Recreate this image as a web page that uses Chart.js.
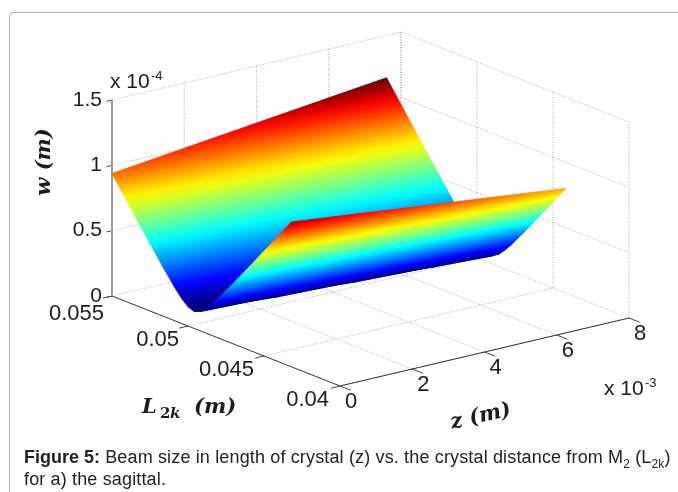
<!DOCTYPE html>
<html>
<head>
<meta charset="utf-8">
<title>Figure 5</title>
<script src="https://cdn.jsdelivr.net/npm/chart.js@4/dist/chart.umd.min.js"></script>
<style>
html, body { margin: 0; padding: 0; background: #fff; overflow: hidden; }
#wrap { position: relative; width: 678px; height: 492px; }
#frame { position: absolute; left: 9px; top: 12px; right: 0; bottom: -10px;
  border-left: 1px solid #b0b0b0; border-top: 1px solid #b0b0b0; border-top-left-radius: 5px; }
#map { position: absolute; left: 0; top: 0; }
#caption { position: absolute; left: 24px; top: 446px; width: 654px; color: #222;
  font: 18px/22px "Liberation Sans", Arial, sans-serif; letter-spacing: 0.15px; white-space: nowrap; }
#caption b { letter-spacing: 0; }
#caption sub { font-size: 12px; line-height: 0; }
</style>
</head>
<body>
<div id="wrap">
  <div id="frame"></div>
  <canvas id="map" width="678" height="492"></canvas>
  <div id="caption"><b>Figure 5:</b> Beam size in length of crystal (z) vs. the crystal distance from M<sub>2</sub> (L<sub>2k</sub>)<br>for a) the sagittal.</div>
</div>
<script>
// Axes ticks (z in 10^-3 m, w in 10^-4 m)
var zTicks = [0, 2, 4, 6, 8];
var zTickLabels = ['0', '2', '4', '6', '8'];
var lTicks = [0.055, 0.05, 0.045, 0.04];
var lTickLabels = ['0.055', '0.05', '0.045', '0.04'];
var wTicks = [0, 0.5, 1, 1.5];
var wTickLabels = ['0', '0.5', '1', '1.5'];

// Surface: one w column per z value, one entry per L row
var zValues = [0, 2, 4, 6, 7.6];
var lValues = [0.055, 0.053, 0.0515, 0.0508, 0.0504, 0.05, 0.0496, 0.0492, 0.0488, 0.0484, 0.048, 0.0476, 0.0472, 0.0468, 0.046, 0.0445, 0.0432];
var wAtZ0 = [0.938, 0.599, 0.352, 0.244, 0.189, 0.147, 0.13, 0.147, 0.189, 0.244, 0.304, 0.368, 0.433, 0.499, 0.633, 0.887, 1.108];
var wAtZ2 = [1.0, 0.661, 0.411, 0.299, 0.239, 0.185, 0.145, 0.13, 0.15, 0.193, 0.249, 0.309, 0.373, 0.438, 0.571, 0.824, 1.046];
var wAtZ4 = [1.063, 0.723, 0.472, 0.357, 0.294, 0.235, 0.181, 0.142, 0.131, 0.153, 0.198, 0.253, 0.314, 0.378, 0.51, 0.762, 0.983];
var wAtZ6 = [1.126, 0.785, 0.532, 0.417, 0.352, 0.289, 0.23, 0.177, 0.14, 0.131, 0.156, 0.202, 0.258, 0.32, 0.449, 0.7, 0.921];
var wAtZ76 = [1.176, 0.835, 0.582, 0.465, 0.399, 0.335, 0.273, 0.215, 0.166, 0.134, 0.135, 0.166, 0.216, 0.274, 0.401, 0.65, 0.871];
var wColumns = [wAtZ0, wAtZ2, wAtZ4, wAtZ6, wAtZ76];

var wMin = 0.13, wMax = 1.176;

// Oblique view of the box, in canvas units
function project(z, l, w) {
    var t = (0.055 - l) / 0.015;
    return {
        x: 112 + z / 8 * 289 + t * 228,
        y: 296 - z / 8 * 68 + t * 90 - w / 1.5 * 196
    };
}

// Jet colormap
var jetStops = [[0, [0, 0, 110]], [0.125, [0, 0, 255]], [0.375, [0, 255, 255]], [0.625, [255, 255, 0]], [0.875, [255, 0, 0]], [1, [96, 0, 0]]];
function jet(w) {
    var v = Math.min(1, Math.max(0, (w - wMin) / (wMax - wMin)));
    for (var i = 1; i < jetStops.length; i++) {
        if (v <= jetStops[i][0]) {
            var a = jetStops[i - 1], b = jetStops[i];
            var f = (v - a[0]) / (b[0] - a[0]);
            return 'rgb(' + [0, 1, 2].map(function(c) {
                return Math.round(a[1][c] + (b[1][c] - a[1][c]) * f);
            }).join(',') + ')';
        }
    }
    return 'rgb(96,0,0)';
}

// Gradient for one cell: w is taken as a plane through three of its corners
function cellGradient(chart, corners) {
    var xs = chart.scales.x, ys = chart.scales.y;
    var p = corners.map(function(c) {
        var q = project(c.z, c.l, c.w);
        return { x: xs.getPixelForValue(q.x), y: ys.getPixelForValue(q.y), w: c.w };
    });
    var ax = p[1].x - p[0].x, ay = p[1].y - p[0].y, aw = p[1].w - p[0].w;
    var bx = p[3].x - p[0].x, by = p[3].y - p[0].y, bw = p[3].w - p[0].w;
    var det = ax * by - ay * bx;
    var gx = (aw * by - ay * bw) / det, gy = (ax * bw - aw * bx) / det;
    var g2 = gx * gx + gy * gy || 1e-6;
    var lo = Math.min.apply(null, p.map(function(c) { return c.w; }));
    var hi = Math.max.apply(null, p.map(function(c) { return c.w; }));
    var x0 = p[0].x + gx * (lo - p[0].w) / g2, y0 = p[0].y + gy * (lo - p[0].w) / g2;
    var x1 = p[0].x + gx * (hi - p[0].w) / g2, y1 = p[0].y + gy * (hi - p[0].w) / g2;
    // scales have no pixel size yet on the very first pass
    if (![x0, y0, x1, y1].every(isFinite)) return jet((lo + hi) / 2);
    var grad = chart.ctx.createLinearGradient(x0, y0, x1, y1);
    for (var s = 0; s <= 8; s++) {
        grad.addColorStop(s / 8, jet(lo + (hi - lo) * s / 8));
    }
    return grad;
}

var datasets = [];

function addLine(a, b, color, width, dash, order) {
    datasets.push({
        data: [project(a[0], a[1], a[2]), project(b[0], b[1], b[2])],
        showLine: true, fill: false, pointRadius: 0,
        borderColor: color, borderWidth: width, borderDash: dash, order: order
    });
}

// Dotted grid on the floor and the two back walls
var gridColor = '#9a9a9a', gridDash = [1, 1.5];
zTicks.forEach(function(z) {
    if (z > 0) addLine([z, 0.04, 0], [z, 0.055, 0], gridColor, 0.8, gridDash, 10000);
    if (z > 0) addLine([z, 0.055, 0], [z, 0.055, 1.5], gridColor, 0.8, gridDash, 10000);
});
lTicks.forEach(function(l) {
    addLine([0, l, 0], [8, l, 0], gridColor, 0.8, gridDash, 10000);
    addLine([8, l, 0], [8, l, 1.5], gridColor, 0.8, gridDash, 10000);
});
wTicks.forEach(function(w) {
    if (w > 0) {
        addLine([0, 0.055, w], [8, 0.055, w], gridColor, 0.8, gridDash, 10000);
        addLine([8, 0.055, w], [8, 0.04, w], gridColor, 0.8, gridDash, 10000);
    }
});

// Box axes and their tick marks
addLine([0, 0.055, 0], [0, 0.055, 1.5], '#9a9a9a', 2, [], 9000);
addLine([0, 0.055, 0], [0, 0.04, 0], '#333333', 1, [], 9000);
addLine([0, 0.04, 0], [8, 0.04, 0], '#333333', 1, [], 9000);
zTicks.forEach(function(z) {
    addLine([z, 0.04, 0], [z, 0.0393, 0], '#444444', 1, [], 9000);
});
lTicks.forEach(function(l) {
    addLine([0, l, 0], [-0.25, l, 0], '#444444', 1, [], 9000);
});
wTicks.forEach(function(w) {
    addLine([0, 0.055, w], [-0.15, 0.055, w], '#444444', 1, [], 9000);
});

// Surface cells, far rows painted first
lValues.forEach(function(l, i) {
    if (i === lValues.length - 1) return;
    zValues.forEach(function(z, j) {
        if (j === zValues.length - 1) return;
        var corners = [
            { z: z, l: l, w: wColumns[j][i] },
            { z: zValues[j + 1], l: l, w: wColumns[j + 1][i] },
            { z: zValues[j + 1], l: lValues[i + 1], w: wColumns[j + 1][i + 1] },
            { z: z, l: lValues[i + 1], w: wColumns[j][i + 1] }
        ];
        var pts = corners.concat([corners[0]]).map(function(c) { return project(c.z, c.l, c.w); });
        var paint = function(ctx) { return cellGradient(ctx.chart, corners); };
        datasets.push({
            data: pts,
            showLine: true, fill: 'shape', pointRadius: 0, tension: 0,
            backgroundColor: paint, borderColor: paint, borderWidth: 0.8,
            order: (lValues.length - i) * 10 + (zValues.length - j)
        });
    });
});

// Text that sits on the oblique axes
var sansFont = '"Liberation Sans", Arial, sans-serif';
var serifFont = '"DejaVu Serif", "Liberation Serif", serif';

var boxText = {
    id: 'boxText',
    afterDraw: function(chart) {
        var c = chart.ctx, xs = chart.scales.x, ys = chart.scales.y;
        function at(z, l, w) {
            var q = project(z, l, w);
            return { x: xs.getPixelForValue(q.x), y: ys.getPixelForValue(q.y) };
        }
        c.save();
        c.fillStyle = '#1c1c1c';
        c.textBaseline = 'middle';

        c.font = '21px ' + sansFont;
        c.textAlign = 'right';
        wTicks.forEach(function(w, i) {
            var p = at(0, 0.055, w);
            c.fillText(wTickLabels[i], p.x - 10, p.y);
        });
        c.font = '22px ' + sansFont;
        lTicks.forEach(function(l, i) {
            var p = at(0, l, 0);
            c.fillText(lTickLabels[i], p.x - 8 - i, p.y + (i === 0 ? 18 : 14));
        });
        c.textAlign = 'center';
        zTicks.forEach(function(z, i) {
            var p = at(z, 0.04, 0);
            c.fillText(zTickLabels[i], p.x + 11, p.y + 16);
        });

        // multipliers
        c.textAlign = 'left';
        c.textBaseline = 'alphabetic';
        c.font = '21px ' + sansFont;
        c.fillText('x 10', 110, 88);
        c.fillText('x 10', 604, 395);
        c.font = '13px ' + sansFont;
        c.fillText('-4', 151, 80);
        c.fillText('-3', 645, 387);

        // axis titles
        c.font = 'italic bold 21px ' + serifFont;
        c.save();
        c.translate(50, 162);
        c.rotate(-Math.PI / 2);
        c.textAlign = 'center';
        c.fillText('w (m)', 0, 0);
        c.restore();

        c.fillText('L', 142, 413);
        c.font = 'bold 15px ' + serifFont;
        c.fillText('2', 160, 418);
        c.font = 'italic bold 15px ' + serifFont;
        c.fillText('k', 170, 418);
        c.font = 'italic bold 21px ' + serifFont;
        c.fillText('(m)', 194, 413);

        c.save();
        c.translate(482, 422);
        c.rotate(-0.22);
        c.textAlign = 'center';
        c.fillText('z (m)', 0, 0);
        c.restore();
        c.restore();
    }
};

var map = new Chart(document.getElementById('map').getContext('2d'), {
    type: 'scatter',
    data: { datasets: datasets },
    plugins: [boxText],
    options: {
        responsive: false,
        animation: false,
        events: [],
        layout: { padding: 0 },
        plugins: { legend: { display: false }, tooltip: { enabled: false } },
        scales: {
            x: { type: 'linear', min: 0, max: 678, display: false },
            y: { type: 'linear', min: 0, max: 492, reverse: true, display: false }
        }
    }
});
</script>
</body>
</html>
